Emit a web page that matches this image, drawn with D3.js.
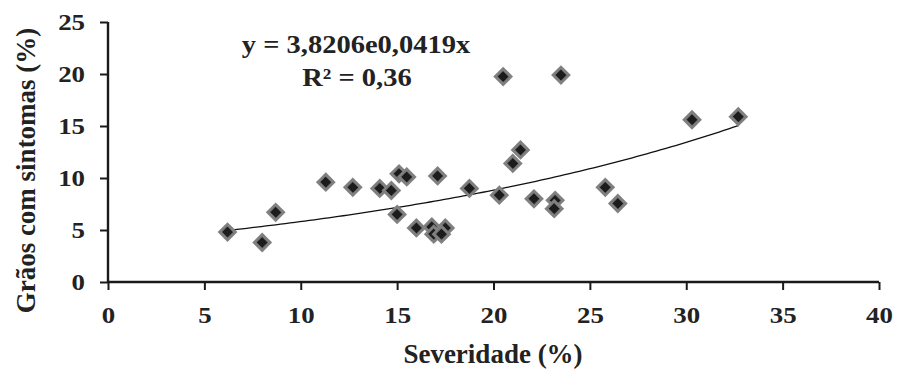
<!DOCTYPE html>
<html>
<head>
<meta charset="utf-8">
<script src="https://cdn.jsdelivr.net/npm/d3@7"></script>
<style>
  body { margin: 0; background: #fff; }
  svg text { font-family: "Liberation Serif", "Times New Roman", serif; font-weight: bold; fill: #222; }
</style>
</head>
<body>
<svg id="chart"></svg>
<script>
// severity (%) vs grains with symptoms (%)
const severidade = [6.2, 8.0, 8.7, 11.3, 12.7, 14.1, 14.7, 15.1, 15.5, 15.0, 16.0, 16.8, 16.9, 17.5, 17.3, 17.1,
  18.75, 20.3, 20.5, 23.5, 21.4, 21.0, 22.1, 23.2, 23.15, 25.8, 26.45, 30.3, 32.7];
const graos = [4.8, 3.8, 6.7, 9.6, 9.1, 9.0, 8.8, 10.4, 10.1, 6.5, 5.2, 5.3, 4.6, 5.2, 4.6, 10.2,
  9.0, 8.35, 19.75, 19.9, 12.7, 11.4, 8.0, 7.85, 7.05, 9.1, 7.55, 15.6, 15.9];

const xTicks = [0, 5, 10, 15, 20, 25, 30, 35, 40];
const yTicks = [0, 5, 10, 15, 20, 25];

// exponential trend shown on the chart
const trendA = 3.8206, trendB = 0.0419;
const eqLabel = "y = 3,8206e0,0419x";
const r2Label = "R² = 0,36";

const W = 898, H = 369;
const margin = { top: 22, right: 19, bottom: 87, left: 108 };
const width = W - margin.left - margin.right;
const height = H - margin.top - margin.bottom;
const sx = 1.12; // labels in the picture are a bit wider than the font

const svg = d3.select("#chart").attr("width", W).attr("height", H);
const g = svg.append("g").attr("transform", `translate(${margin.left},${margin.top})`);

const x = d3.scaleLinear().domain([0, 40]).range([0, width]);
const y = d3.scaleLinear().domain([0, 25]).range([height, 0]);

// axes
const xAxis = g.append("g")
    .attr("transform", `translate(0,${height})`)
    .call(d3.axisBottom(x).tickValues(xTicks).tickSize(8).tickPadding(16).tickFormat(d3.format("d")));
const yAxis = g.append("g")
    .call(d3.axisLeft(y).tickValues(yTicks).tickSize(8).tickPadding(12.5).tickFormat(d3.format("d")));

[xAxis, yAxis].forEach(a => {
    a.select(".domain").attr("stroke", "#1a1a1a").attr("stroke-width", 2.4);
    a.selectAll(".tick line").attr("stroke", "#1a1a1a").attr("stroke-width", 2);
    a.selectAll(".tick text")
        .attr("font-family", "Liberation Serif, serif")
        .attr("font-weight", "bold")
        .attr("font-size", 24)
        .attr("fill", "#222")
        .attr("transform", `scale(${sx},1)`);
});
xAxis.selectAll(".domain").attr("d", `M0,0H${width}`);
yAxis.selectAll(".domain").attr("d", `M0,${height}V0`);

// trend line
const xs = d3.range(d3.min(severidade), d3.max(severidade) + 0.01, 0.25);
g.append("path")
    .datum(xs)
    .attr("fill", "none")
    .attr("stroke", "#111")
    .attr("stroke-width", 1.3)
    .attr("d", d3.line().x(d => x(d)).y(d => y(trendA * Math.exp(trendB * d))));

// markers
const defs = svg.append("defs");
defs.append("filter").attr("id", "soft")
    .append("feGaussianBlur").attr("stdDeviation", 0.6);

const points = severidade.map((s, i) => ({ s, v: graos[i] }));
g.selectAll(".pt")
    .data(points)
    .enter()
    .append("path")
    .attr("class", "pt")
    .attr("d", d3.symbol().type(d3.symbolSquare).size(130))
    .attr("transform", d => `translate(${x(d.s)},${y(d.v)}) rotate(45)`)
    .attr("fill", "#1c1c1c")
    .attr("stroke", "#808080")
    .attr("stroke-width", 3.2)
    .attr("filter", "url(#soft)");

// equation
function label(txt, cx, base, size, scaleX, rot) {
    return svg.append("text")
        .attr("transform", `translate(${cx},${base})${rot ? " rotate(" + rot + ")" : ""} scale(${scaleX},1)`)
        .attr("text-anchor", "middle")
        .attr("font-size", size)
        .text(txt);
}
label(eqLabel, 356, 53, 25, 1.14);
label(r2Label, 357, 86, 25, 1.14);

// axis titles
label("Severidade (%)", 493, 363, 27, 1.0);
label("Grãos com sintomas (%)", 35, 170.5, 27, 1.0, -90);
</script>
</body>
</html>
